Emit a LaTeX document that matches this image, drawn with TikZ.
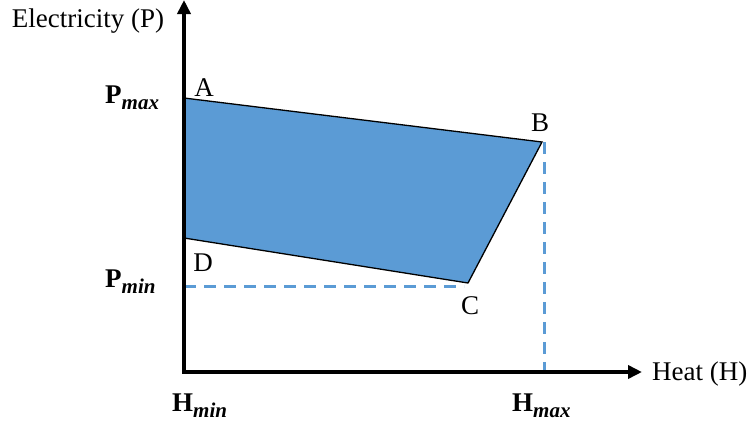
\documentclass[tikz,border=0pt]{standalone}
\usepackage{fontspec}
\setmainfont{Liberation Serif}
\usetikzlibrary{arrows.meta}
\definecolor{fillblue}{HTML}{5B9BD5}
\newcommand{\vsub}[2]{\textbf{#1}\raisebox{-6pt}{\fontsize{21}{22}\selectfont\bfseries\itshape #2}}
\begin{document}
\begin{tikzpicture}[x=1pt,y=-1pt,
  axis/.style={line width=4pt,-{Triangle[length=14pt,width=13pt]}},
  guide/.style={fillblue,line width=3pt,dash pattern=on 12pt off 8pt},
  lbl/.style={font=\fontsize{27}{29}\selectfont,inner sep=0pt},
  val/.style={font=\fontsize{27}{29}\selectfont,inner sep=0pt}]
\useasboundingbox (0,0) rectangle (747,426);
\coordinate (O) at (184,372);
\coordinate (Ytip) at (184,0);
\coordinate (Xtip) at (642,372);
\coordinate (A) at (184,98);
\coordinate (B) at (542,142);
\coordinate (C) at (468,283);
\coordinate (D) at (184,238);
\coordinate (Dl) at (184,286);
\coordinate (Cl) at (464,286);
\coordinate (Bt) at (544,142);
\coordinate (Bb) at (544,372);
\fill[fillblue] (A) -- (B) -- (C) -- (D) -- cycle;
\draw[line width=1.3pt] (A) -- (B) -- (C) -- (D);
\draw[guide] (Dl) -- (Cl);
\draw[guide] (Bt) -- (Bb);
\draw[axis,line cap=rect] (O) -- (Ytip);
\draw[axis] (O) -- (Xtip);
\node[lbl] (lA) at (204,88) {A};
\node[lbl] (lB) at (540,123) {B};
\node[lbl] (lC) at (470,306) {C};
\node[lbl] (lD) at (203,263) {D};
\node[lbl] (ylab) at (88,21) {Electricity (P)};
\node[lbl,anchor=west] (xlab) at (652,374) {Heat (H)};
\node[val,anchor=west] (pmax) at (105,98) {\vsub{P}{max}};
\node[val,anchor=west] (pmin) at (105,282) {\vsub{P}{min}};
\node[val,anchor=west] (hmin) at (172,406) {\vsub{H}{min}};
\node[val,anchor=west] (hmax) at (512,406) {\vsub{H}{max}};
\end{tikzpicture}
\end{document}
